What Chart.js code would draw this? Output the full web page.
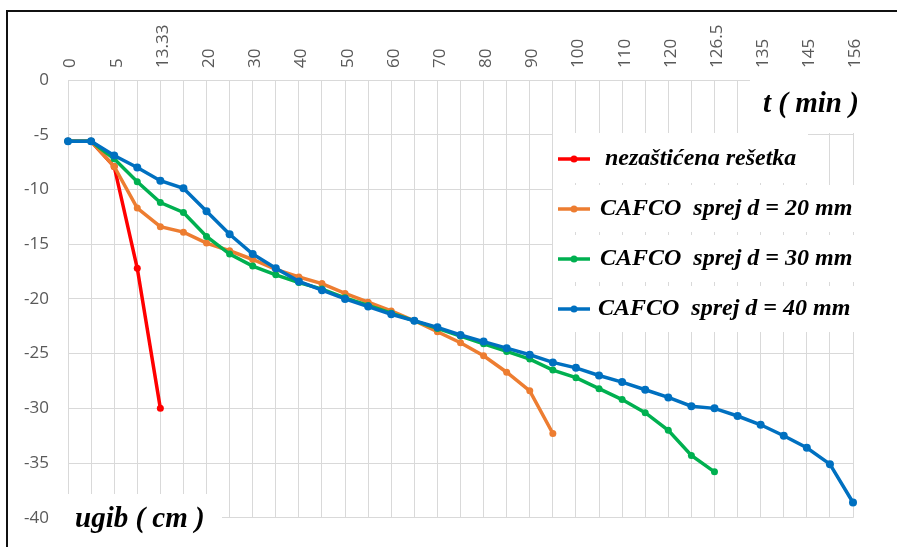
<!DOCTYPE html>
<html>
<head>
<meta charset="utf-8">
<script src="https://cdn.jsdelivr.net/npm/chart.js@4.4.1/dist/chart.umd.min.js"></script>
<style>
  html, body { margin: 0; padding: 0; background: #fff; }
  #wrap { position: relative; width: 897px; height: 547px; overflow: hidden; }
  #frame { position: absolute; left: 6px; top: 10px; right: -10px; bottom: -10px;
           border-top: 2px solid #111; border-left: 2px solid #111; pointer-events: none; }
  canvas { position: absolute; left: 0; top: 0; }
</style>
</head>
<body>
<div id="wrap">
  <canvas id="c" width="897" height="547"></canvas>
  <div id="frame"></div>
</div>
<script>
// time categories (min); only every other one carries a label
const times = ['0', '2.5', '5', '10', '13.33', '16.67', '20', '25', '30', '35', '40', '45',
  '50', '55', '60', '65', '70', '75', '80', '85', '90', '95', '100', '105', '110', '115',
  '120', '125', '126.5', '130', '135', '140', '145', '150', '156'];

// deflection (cm)
const bare = [-5.6, -5.6, -7.9, -17.2, -30.0];
const cafco20 = [-5.6, -5.6, -7.9, -11.7, -13.4, -13.9, -14.9, -15.6, -16.4, -17.3, -18.0,
  -18.6, -19.5, -20.3, -21.1, -22.0, -23.0, -24.0, -25.2, -26.7, -28.4, -32.3];
const cafco30 = [-5.6, -5.6, -7.2, -9.3, -11.2, -12.1, -14.3, -15.9, -17.0, -17.8, -18.5,
  -19.1, -19.9, -20.6, -21.3, -22.0, -22.7, -23.4, -24.1, -24.8, -25.5, -26.5, -27.2,
  -28.2, -29.2, -30.4, -32.0, -34.3, -35.8];
const cafco40 = [-5.6, -5.6, -6.9, -8.0, -9.2, -9.9, -12.0, -14.1, -15.9, -17.2, -18.4,
  -19.2, -20.0, -20.7, -21.4, -22.0, -22.6, -23.3, -23.9, -24.5, -25.1, -25.8, -26.3,
  -27.0, -27.6, -28.3, -29.0, -29.8, -30.0, -30.7, -31.5, -32.5, -33.6, -35.1, -38.6];

const seriesNames = ['nezaštićena rešetka', 'CAFCO  sprej d = 20 mm', 'CAFCO  sprej d = 30 mm', 'CAFCO  sprej d = 40 mm'];
const seriesColors = ['#ff0000', '#ed7d31', '#00b050', '#0070c0'];

const tickFont = { family: "'Open Sans', sans-serif", size: 17 };
const gridColor = '#d9d9d9';
const labelFont = (px) => `italic bold ${px}px 'Liberation Serif', 'Times New Roman', serif`;

function line(data, i, order) {
  return {
    label: seriesNames[i],
    data: data,
    borderColor: seriesColors[i],
    backgroundColor: seriesColors[i],
    borderWidth: 3.5,
    pointRadius: i === 3 ? 4 : 3.5,
    pointBorderWidth: 0,
    tension: 0,
    order: order
  };
}

// text boxes drawn over the grid: axis names and the legend
const notes = {
  id: 'notes',
  afterDraw(chart) {
    const ctx = chart.ctx;
    ctx.save();
    ctx.fillStyle = '#fff';
    ctx.fillRect(750, 78, 120, 55);
    ctx.fillRect(62, 494, 160, 60);
    ctx.fillRect(553, 133, 255, 50);
    ctx.fillRect(553, 185, 313, 47);
    ctx.fillRect(553, 235, 313, 47);
    ctx.fillRect(553, 286, 313, 46);

    ctx.fillStyle = '#000';
    ctx.textBaseline = 'middle';
    ctx.textAlign = 'left';
    ctx.font = labelFont(29);
    ctx.fillText('t ( min )', 763, 105);
    ctx.fillText('ugib ( cm )', 75, 520);

    const rows = [159, 209, 259, 309];
    const textX = [605, 600, 600, 598];
    rows.forEach((y, i) => {
      ctx.strokeStyle = seriesColors[i];
      ctx.lineWidth = 3.5;
      ctx.beginPath();
      ctx.moveTo(558, y);
      ctx.lineTo(590, y);
      ctx.stroke();
      ctx.fillStyle = seriesColors[i];
      ctx.beginPath();
      ctx.arc(574, y, 3.5, 0, Math.PI * 2);
      ctx.fill();
      ctx.fillStyle = '#000';
      ctx.font = labelFont(24);
      ctx.fillText(seriesNames[i], textX[i], y);
    });
    ctx.restore();
  }
};

new Chart(document.getElementById('c'), {
  type: 'line',
  data: {
    labels: times,
    datasets: [
      line(cafco40, 3, 0),
      line(cafco30, 2, 1),
      line(cafco20, 1, 2),
      line(bare, 0, 3)
    ]
  },
  options: {
    responsive: false,
    animation: false,
    layout: { padding: { left: 8, top: 12, right: 44, bottom: 29 } },
    plugins: { legend: { display: false }, tooltip: { enabled: false } },
    scales: {
      x: {
        type: 'category',
        position: 'top',
        offset: false,
        grid: { color: gridColor, drawTicks: false },
        border: { display: false },
        ticks: {
          autoSkip: false, minRotation: 90, maxRotation: 90, padding: 12, labelOffset: 23,
          color: '#595959', font: tickFont,
          callback: (v, i) => (i % 2 === 0 ? times[i] : '')
        },
        afterFit: (s) => { s.height = 68; }
      },
      y: {
        min: -40, max: 0,
        grid: { color: gridColor, drawTicks: false },
        border: { display: false },
        ticks: { stepSize: 5, padding: 19, color: '#595959', font: tickFont },
        afterFit: (s) => { s.width = 60; }
      }
    }
  },
  plugins: [notes]
});
</script>
</body>
</html>
